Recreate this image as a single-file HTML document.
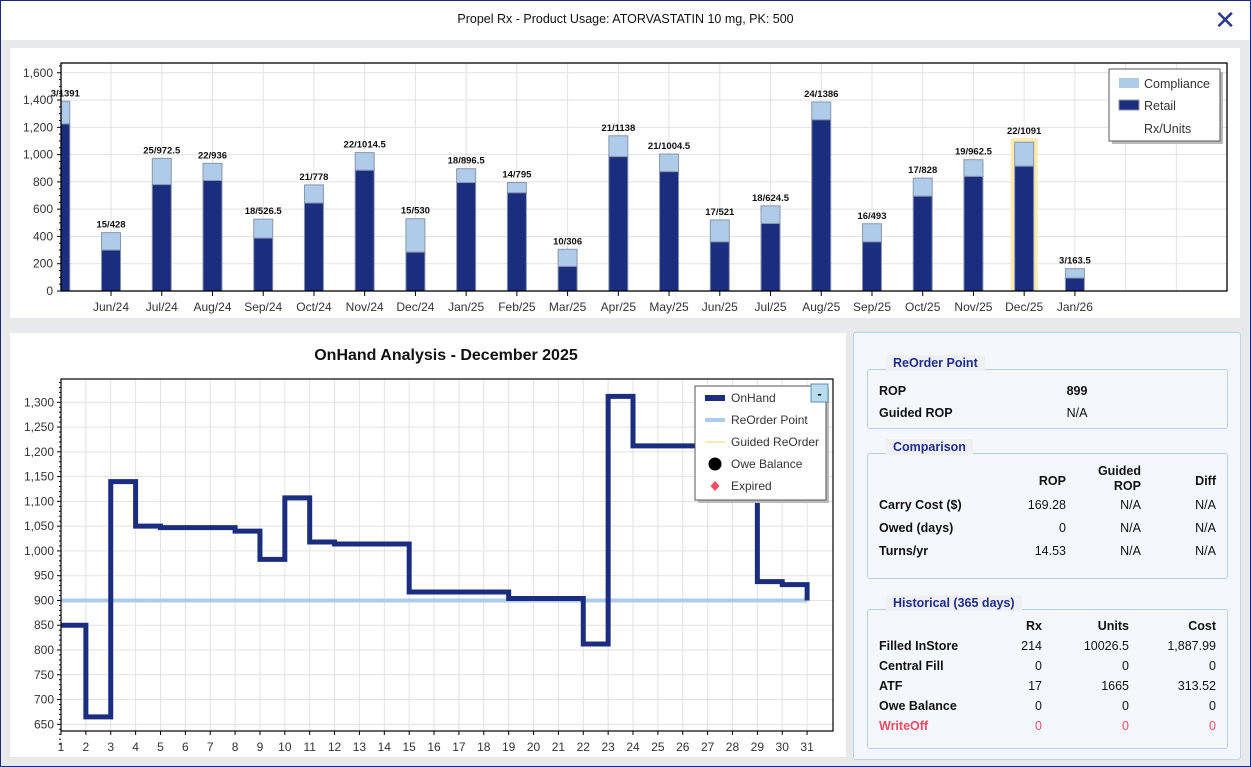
<!DOCTYPE html>
<html><head><meta charset="utf-8"><style>
body{margin:0;width:1251px;height:767px;overflow:hidden;background:#e8e9eb;font-family:"Liberation Sans",sans-serif;position:relative}
#frame{position:absolute;left:0;top:0;width:1249px;height:765px;border:1px solid #1b2a7e;}
#hdr{position:absolute;left:1px;top:1px;width:1249px;height:39px;background:#fff;text-align:center;font-size:12.5px;line-height:37px;color:#111}
#close{position:absolute;right:14px;top:5px;font-size:26px;line-height:28px;color:#2a3a8c}
.panel{position:absolute;background:#fff}
#rp{position:absolute;left:853px;top:332px;width:386px;height:426px;background:#f4f7fc;border:1px solid #bcd3ee;border-radius:3px}
.fs{position:absolute;left:13px;width:359px;border:1px solid #b9cfee;border-radius:3px;font-size:12.5px;color:#111}
.lg{position:absolute;left:18px;top:-15px;background:#eef0f6;color:#1f2d8a;font-weight:bold;font-size:12.5px;padding:1px 7px}
.r{position:absolute;font-weight:bold}
.v{position:absolute;text-align:right}
svg text{font-family:"Liberation Sans",sans-serif}
</style></head><body>
<div id="frame"></div>
<div id="hdr">Propel Rx - Product Usage: ATORVASTATIN 10 mg, PK: 500<span id="close">✕</span></div>
<div class="panel" style="left:10px;top:48px;width:1230px;height:270px"></div>
<div class="panel" style="left:10px;top:333px;width:836px;height:424px"></div>
<svg id="top" width="1251" height="767" style="position:absolute;left:0;top:0"></svg>
<div id="rp">
 <div class="fs" style="top:36px;height:58px"><div class="lg">ReOrder Point</div>
  <div class="r" style="left:11px;top:14px">ROP</div><div class="v" style="left:180px;width:58px;top:14px;text-align:center;font-weight:bold">899</div>
  <div class="r" style="left:11px;top:36px">Guided ROP</div><div class="v" style="left:180px;width:58px;top:36px;text-align:center">N/A</div></div>
 <div class="fs" style="top:120px;height:124px"><div class="lg">Comparison</div>
  <div class="v r" style="left:150px;width:48px;top:20px">ROP</div><div class="v r" style="left:210px;width:63px;top:10px;line-height:15px">Guided<br>ROP</div><div class="v r" style="left:300px;width:48px;top:20px">Diff</div>
  <div class="r" style="left:11px;top:44px">Carry Cost ($)</div><div class="v" style="left:130px;width:68px;top:44px">169.28</div><div class="v" style="left:210px;width:63px;top:44px">N/A</div><div class="v" style="left:300px;width:48px;top:44px">N/A</div>
  <div class="r" style="left:11px;top:67px">Owed (days)</div><div class="v" style="left:130px;width:68px;top:67px">0</div><div class="v" style="left:210px;width:63px;top:67px">N/A</div><div class="v" style="left:300px;width:48px;top:67px">N/A</div>
  <div class="r" style="left:11px;top:90px">Turns/yr</div><div class="v" style="left:130px;width:68px;top:90px">14.53</div><div class="v" style="left:210px;width:63px;top:90px">N/A</div><div class="v" style="left:300px;width:48px;top:90px">N/A</div></div>
 <div class="fs" style="top:276px;height:138px"><div class="lg">Historical (365 days)</div>
  <div class="v r" style="left:120px;width:54px;top:9px">Rx</div><div class="v r" style="left:190px;width:71px;top:9px">Units</div><div class="v r" style="left:280px;width:68px;top:9px">Cost</div>
  <div class="r" style="left:11px;top:29px">Filled InStore</div><div class="v" style="left:120px;width:54px;top:29px">214</div><div class="v" style="left:190px;width:71px;top:29px">10026.5</div><div class="v" style="left:280px;width:68px;top:29px">1,887.99</div>
  <div class="r" style="left:11px;top:49px">Central Fill</div><div class="v" style="left:120px;width:54px;top:49px">0</div><div class="v" style="left:190px;width:71px;top:49px">0</div><div class="v" style="left:280px;width:68px;top:49px">0</div>
  <div class="r" style="left:11px;top:69px">ATF</div><div class="v" style="left:120px;width:54px;top:69px">17</div><div class="v" style="left:190px;width:71px;top:69px">1665</div><div class="v" style="left:280px;width:68px;top:69px">313.52</div>
  <div class="r" style="left:11px;top:89px">Owe Balance</div><div class="v" style="left:120px;width:54px;top:89px">0</div><div class="v" style="left:190px;width:71px;top:89px">0</div><div class="v" style="left:280px;width:68px;top:89px">0</div>
  <div class="r" style="left:11px;top:109px;color:#ee4d62">WriteOff</div><div class="v" style="left:120px;width:54px;top:109px;color:#ee4d62">0</div><div class="v" style="left:190px;width:71px;top:109px;color:#ee4d62">0</div><div class="v" style="left:280px;width:68px;top:109px;color:#ee4d62">0</div></div>
</div>
<script>
const months=["May/24","Jun/24","Jul/24","Aug/24","Sep/24","Oct/24","Nov/24","Dec/24","Jan/25","Feb/25","Mar/25","Apr/25","May/25","Jun/25","Jul/25","Aug/25","Sep/25","Oct/25","Nov/25","Dec/25","Jan/26"];
const totals=[1391,428,972.5,936,526.5,778,1014.5,530,896.5,795,306,1138,1004.5,521,624.5,1386,493,828,962.5,1091,163.5];
const retail=[1225,300,780,810,388,645,885,285,795,720,180,985,875,360,495,1255,360,695,840,915,95];
const rxCounts=["3","15","25","22","18","21","22","15","18","14","10","21","21","17","18","24","16","17","19","22","3"];
const yTicks=[0,200,400,600,800,1000,1200,1400,1600];
const days=[1,2,3,4,5,6,7,8,9,10,11,12,13,14,15,16,17,18,19,20,21,22,23,24,25,26,27,28,29,30,31];
const onhand=[850,665,1140,1050,1047,1047,1047,1040,983,1107,1018,1014,1014,1014,917,917,917,917,904,904,904,812,1312,1212,1212,1212,1212,1212,938,932,900];
const rop=[900,900,900,900,900,900,900,900,900,900,900,900,900,900,900,900,900,900,900,900,900,900,900,900,900,900,900,900,900,900,900];
const y2Ticks=[650,700,750,800,850,900,950,1000,1050,1100,1150,1200,1250,1300];
const NS="http://www.w3.org/2000/svg";
const svg=document.getElementById('top');
function mk(t,a,txt,parent){const e=document.createElementNS(NS,t);for(const k in a)e.setAttribute(k,a[k]);if(txt!=null)e.textContent=txt;(parent||svg).appendChild(e);return e;}
// top chart
const L=61,R=1227,T=63,B=291;
const xc=i=>60.3+50.73*i, yv=v=>B-v*0.1364;
for(let i=0;i<24;i++){const x=xc(i);if(x>L&&x<R){const g=mk('line',{x1:x,x2:x,y1:T,y2:B,stroke:'#e2e2e2'});}}
yTicks.forEach(v=>{const g=mk('line',{x1:L,x2:R,y1:yv(v),y2:yv(v),stroke:'#e2e2e2'});
 const t=mk('text',{x:L-8,y:yv(v)+4,'text-anchor':'end','font-size':12,fill:'#333'},v.toLocaleString('en-US'));});
for(let v=0;v<=1650;v+=50){mk('line',{x1:L-(v%200?2:4),x2:L,y1:yv(v),y2:yv(v),stroke:'#000'});}
months.forEach((m,i)=>{const x=xc(i),w=19;let x0=x-w/2,ww=w;if(x0<L){ww=x0+w-L;x0=L;}
 if(i===19){const h=mk('rect',{x:x0-4,y:yv(totals[i])-4,width:ww+8,height:B-yv(totals[i])+4,fill:'#fde9b2'});}
 const c=mk('rect',{x:x0,y:yv(totals[i]),width:ww,height:yv(retail[i])-yv(totals[i]),fill:'#aecbea',stroke:'#8c96a8','stroke-width':1});
 const r=mk('rect',{x:x0,y:yv(retail[i]),width:ww,height:B-yv(retail[i]),fill:'#1b2d7f',stroke:'#8c96a8','stroke-width':1});
 const lab=mk('text',{x:x+(i===0?5:0),y:yv(totals[i])-(i===19?8:5),'text-anchor':'middle','font-size':9.5,'font-weight':'bold',fill:'#111'},rxCounts[i]+'/'+totals[i]);
 if(i>0){mk('line',{x1:x,x2:x,y1:B,y2:B+5,stroke:'#000'});const t=mk('text',{x:x,y:B+20,'text-anchor':'middle','font-size':12,fill:'#333'},m);}});
mk('rect',{x:L,y:T,width:R-L,height:B-T,fill:'none',stroke:'#000','stroke-width':1.3});
mk('rect',{x:1112,y:72,width:111,height:72,fill:'#bbb'});
const lgb=mk('rect',{x:1109,y:69,width:111,height:72,fill:'#fff',stroke:'#555'});
mk('rect',{x:1119,y:78,width:20,height:10,fill:'#aecbea'});mk('text',{x:1144,y:88,'font-size':12.5,fill:'#333'},'Compliance');
mk('rect',{x:1119,y:100,width:20,height:10,fill:'#1b2d7f',stroke:'#8c96a8'});mk('text',{x:1144,y:110,'font-size':12.5,fill:'#333'},'Retail');
mk('text',{x:1144,y:133,'font-size':12.5,fill:'#333'},'Rx/Units');
// bottom chart
const L2=61,R2=833,T2=379,B2=731;
const dx=d=>61+(d-1)*24.87, dy=v=>402.3+(1300-v)*0.4954;
const tt=mk('text',{x:446,y:360,'text-anchor':'middle','font-size':16,'font-weight':'bold',fill:'#111'},'OnHand Analysis - December 2025');
days.forEach(d=>{mk('line',{x1:dx(d),x2:dx(d),y1:T2,y2:B2,stroke:'#e2e2e2'});mk('line',{x1:dx(d),x2:dx(d),y1:B2,y2:B2+4,stroke:'#000'});
 const t=mk('text',{x:dx(d),y:B2+20,'text-anchor':'middle','font-size':12,fill:'#333'},d);});
y2Ticks.forEach(v=>{mk('line',{x1:L2,x2:R2,y1:dy(v),y2:dy(v),stroke:'#e2e2e2'});
 const t=mk('text',{x:L2-7,y:dy(v)+4,'text-anchor':'end','font-size':12,fill:'#333'},v.toLocaleString('en-US'));});
for(let v=610;v<=1345;v+=10){mk('line',{x1:L2-(v%50?2:4),x2:L2,y1:dy(v),y2:dy(v),stroke:'#000'});}
const rl=mk('polyline',{points:days.map((d,i)=>dx(d)+','+dy(rop[i])).join(' '),fill:'none',stroke:'#aecbea','stroke-width':4});
let pts=[];for(let i=0;i<days.length-1;i++){pts.push(dx(days[i])+','+dy(onhand[i]));pts.push(dx(days[i+1])+','+dy(onhand[i]));}pts.push(dx(31)+','+dy(onhand[30]));
const ol=mk('polyline',{points:pts.join(' '),fill:'none',stroke:'#1b2d7f','stroke-width':5});
mk('rect',{x:L2,y:T2,width:R2-L2,height:B2-T2,fill:'none',stroke:'#000','stroke-width':1.2});
mk('rect',{x:698,y:389,width:131,height:114,fill:'#bbb'});
const lg2=mk('rect',{x:695,y:386,width:131,height:114,fill:'#fff',stroke:'#555'});
mk('rect',{x:705,y:395,width:20,height:6,fill:'#1b2d7f'});mk('text',{x:731,y:402,'font-size':12,fill:'#333'},'OnHand');
mk('rect',{x:705,y:418,width:20,height:4,fill:'#aecbea'});mk('text',{x:731,y:424,'font-size':12,fill:'#333'},'ReOrder Point');
mk('line',{x1:705,x2:725,y1:442,y2:442,stroke:'#fde9b2','stroke-width':2});mk('text',{x:731,y:446,'font-size':12,fill:'#333'},'Guided ReOrder');
mk('circle',{cx:715,cy:464,r:6.5,fill:'#000'});mk('text',{x:731,y:468,'font-size':12,fill:'#333'},'Owe Balance');
mk('path',{d:'M715 481 L719.5 486 L715 491 L710.5 486Z',fill:'#ee4d62'});mk('text',{x:731,y:490,'font-size':12,fill:'#333'},'Expired');
const mb=mk('rect',{x:811,y:384,width:17,height:18,fill:'#b9dcef',stroke:'#5a8db5'});
mk('text',{x:819.5,y:398,'text-anchor':'middle','font-size':13,'font-weight':'bold',fill:'#000'},'-');
</script>
</body></html>
